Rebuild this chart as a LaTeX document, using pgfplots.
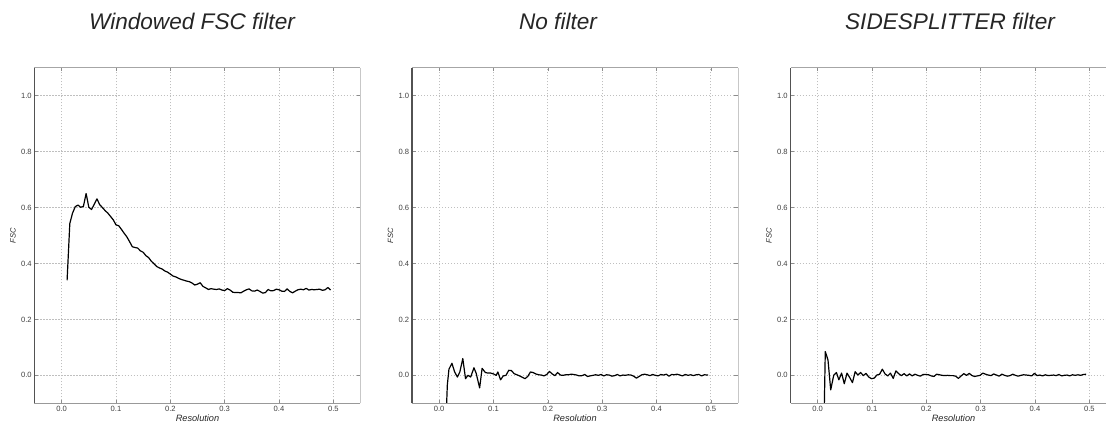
\documentclass[border=0pt]{standalone}
\usepackage{fontspec}
\setmainfont{Liberation Sans}
\usepackage{pgfplots}
\usepackage{pgfplotstable}
\pgfplotsset{compat=1.18}

% FSC curves
\pgfplotstableread{
x y
0.010 0.340
0.015 0.543
0.020 0.580
0.025 0.603
0.030 0.609
0.035 0.601
0.040 0.604
0.045 0.650
0.050 0.601
0.055 0.593
0.060 0.612
0.065 0.631
0.070 0.610
0.075 0.600
0.080 0.589
0.085 0.580
0.090 0.568
0.095 0.556
0.100 0.538
0.105 0.535
0.110 0.522
0.115 0.508
0.120 0.495
0.125 0.478
0.130 0.460
0.135 0.457
0.140 0.455
0.145 0.445
0.150 0.440
0.155 0.428
0.160 0.421
0.165 0.408
0.170 0.399
0.175 0.389
0.180 0.384
0.185 0.380
0.190 0.373
0.195 0.369
0.200 0.362
0.205 0.355
0.210 0.352
0.215 0.347
0.220 0.343
0.225 0.340
0.230 0.337
0.235 0.335
0.240 0.330
0.245 0.323
0.250 0.326
0.255 0.331
0.260 0.318
0.265 0.313
0.270 0.307
0.275 0.310
0.280 0.308
0.285 0.307
0.290 0.309
0.295 0.305
0.300 0.303
0.305 0.310
0.310 0.305
0.315 0.297
0.320 0.296
0.325 0.296
0.330 0.295
0.335 0.301
0.340 0.306
0.345 0.309
0.350 0.302
0.355 0.301
0.360 0.305
0.365 0.300
0.370 0.294
0.375 0.296
0.380 0.307
0.385 0.302
0.390 0.303
0.395 0.308
0.400 0.306
0.405 0.301
0.410 0.300
0.415 0.309
0.420 0.300
0.425 0.295
0.430 0.301
0.435 0.306
0.440 0.308
0.445 0.306
0.450 0.311
0.455 0.305
0.460 0.307
0.465 0.306
0.470 0.307
0.475 0.308
0.480 0.304
0.485 0.306
0.490 0.314
0.495 0.305
}\windowed

\pgfplotstableread{
x y
0.010 -0.300
0.015 -0.035
0.018 0.022
0.0235 0.043
0.0285 0.012
0.0335 -0.006
0.038 0.012
0.0435 0.060
0.0485 -0.012
0.053 0.000
0.058 -0.006
0.064 0.027
0.068 0.008
0.0745 -0.045
0.079 0.025
0.085 0.010
0.090 0.008
0.095 0.008
0.100 0.005
0.105 0.000
0.108 0.012
0.113 -0.016
0.118 -0.002
0.123 0.000
0.128 0.018
0.133 0.017
0.138 0.006
0.143 0.002
0.148 -0.002
0.153 -0.007
0.158 -0.012
0.163 -0.004
0.168 0.012
0.173 0.010
0.178 0.005
0.183 0.002
0.188 0.001
0.193 -0.002
0.198 0.003
0.203 0.014
0.208 0.005
0.213 -0.001
0.218 0.010
0.223 0.001
0.228 0.000
0.233 0.002
0.238 0.002
0.243 0.004
0.248 0.003
0.253 0.001
0.258 -0.002
0.263 -0.001
0.268 0.003
0.273 -0.004
0.278 -0.002
0.283 0.000
0.288 0.002
0.293 0.000
0.298 0.003
0.303 -0.002
0.308 0.002
0.313 0.001
0.318 -0.003
0.323 -0.001
0.328 0.003
0.333 -0.002
0.338 0.001
0.343 0.000
0.348 0.002
0.353 0.001
0.358 -0.003
0.363 -0.010
0.368 -0.004
0.373 0.002
0.378 0.004
0.383 0.002
0.388 -0.001
0.393 0.003
0.398 0.000
0.403 -0.002
0.408 0.003
0.413 0.001
0.418 0.004
0.423 -0.003
0.428 0.003
0.433 0.002
0.438 0.004
0.443 0.001
0.448 -0.002
0.453 0.003
0.458 0.000
0.463 0.002
0.468 -0.001
0.473 0.002
0.478 0.003
0.483 -0.002
0.488 0.002
0.495 0.001
}\nofilter

\pgfplotstableread{
x y
0.0105 -0.300
0.014 0.085
0.019 0.055
0.024 -0.052
0.0295 0.000
0.0345 0.010
0.039 -0.016
0.044 0.008
0.049 -0.030
0.054 0.008
0.059 -0.008
0.064 -0.026
0.069 0.013
0.074 0.001
0.079 0.010
0.084 -0.001
0.089 0.007
0.094 -0.006
0.099 -0.012
0.104 -0.010
0.109 0.001
0.114 0.004
0.119 0.022
0.124 0.005
0.129 -0.002
0.134 0.008
0.139 -0.011
0.144 0.016
0.149 0.006
0.154 -0.001
0.159 0.006
0.164 -0.002
0.169 0.005
0.174 -0.002
0.179 0.004
0.184 0.000
0.189 -0.003
0.194 0.003
0.199 0.003
0.204 0.002
0.209 -0.002
0.214 -0.004
0.219 0.004
0.224 0.002
0.229 0.000
0.234 -0.001
0.239 0.000
0.244 -0.001
0.249 -0.001
0.254 -0.003
0.259 -0.011
0.264 -0.002
0.269 0.006
0.274 0.000
0.279 0.007
0.284 -0.001
0.289 -0.004
0.294 -0.002
0.299 0.000
0.304 0.008
0.309 0.004
0.314 0.001
0.319 -0.001
0.324 0.005
0.329 0.001
0.334 -0.003
0.339 0.004
0.344 0.000
0.349 -0.003
0.354 -0.001
0.359 0.004
0.364 0.000
0.369 -0.003
0.374 0.000
0.379 0.002
0.384 0.001
0.389 0.000
0.394 -0.002
0.399 0.007
0.404 -0.001
0.409 0.001
0.414 -0.002
0.419 0.002
0.424 -0.001
0.429 0.000
0.434 0.001
0.439 -0.001
0.444 0.003
0.449 -0.002
0.454 0.000
0.459 0.001
0.464 -0.002
0.469 0.002
0.474 0.000
0.479 0.002
0.484 0.000
0.489 0.003
0.494 0.004
}\sidesplitter

\pgfplotsset{
  fscaxis/.style={
    scale only axis,
    width=163pt, height=167.8pt,
    xmin=-0.05, xmax=0.55, ymin=-0.1, ymax=1.1,
    xtick={0,0.1,0.2,0.3,0.4,0.5},
    ytick={0,0.2,0.4,0.6,0.8,1.0},
    /pgf/number format/assume math mode=true,
    /pgf/number format/fixed,
    /pgf/number format/fixed zerofill,
    /pgf/number format/precision=1,
    tick label style={font=\fontsize{3.8}{4}\selectfont, text=black!75, inner sep=0.6pt},
    xticklabel shift=0.6pt,
    yticklabel shift=0.6pt,
    tick align=inside,
    major tick length=1.8pt,
    tick style={black!45, line width=0.3pt},
    grid=major,
    major grid style={black!25, line width=0.35pt, dash pattern=on 0.6pt off 0.9pt},
    axis line style={draw=none},
    clip mode=individual,
    xlabel={Resolution},
    ylabel={FSC},
    every axis x label/.style={at={(axis description cs:0.5,0)}, anchor=center,
      yshift=-7.6pt, font=\itshape\fontsize{4.6}{5}\selectfont, text=black!85},
    every axis y label/.style={at={(axis description cs:0,0.5)}, anchor=center,
      rotate=90, yshift=10.8pt, font=\itshape\fontsize{3.8}{4}\selectfont, text=black!85},
  },
  spines/.style={
    execute at end axis={
      \draw[black!68, line width=0.65pt] (rel axis cs:0,0) -- (rel axis cs:0,1);
      \draw[black!35, line width=0.75pt] (rel axis cs:0,1) -- (rel axis cs:1,1);
      \draw[black!22, line width=0.3pt] (rel axis cs:1,1) -- (rel axis cs:1,0);
      \draw[black!40, line width=0.5pt] (rel axis cs:1,0) -- (rel axis cs:0,0);
    }
  },
  fscline/.style={black, line width=0.6pt, line join=round},
}

\begin{document}
\begin{tikzpicture}
\begin{axis}[fscaxis, spines, at={(17.25pt,9.85pt)}, anchor=south west]
  \addplot[fscline] table[x=x, y=y] {\windowed};
\end{axis}
\begin{axis}[fscaxis, spines, at={(206pt,9.85pt)}, anchor=south west]
  \addplot[fscline] table[x=x, y=y] {\nofilter};
\end{axis}
\begin{axis}[fscaxis, spines, at={(395.25pt,9.85pt)}, anchor=south west]
  \addplot[fscline] table[x=x, y=y] {\sidesplitter};
\end{axis}

\begin{scope}[every node/.style={anchor=base, inner sep=0pt,
    font=\itshape\fontsize{11.3}{13}\selectfont, text=black!85}]
  \node at (96pt,196.75pt) {Windowed FSC filter};
  \node at (279pt,196.75pt) {No filter};
  \node at (475pt,196.75pt) {SIDESPLITTER filter};
\end{scope}

\pgfresetboundingbox
\path[use as bounding box] (0,0) rectangle (553pt,211.5pt);
\end{tikzpicture}
\end{document}
